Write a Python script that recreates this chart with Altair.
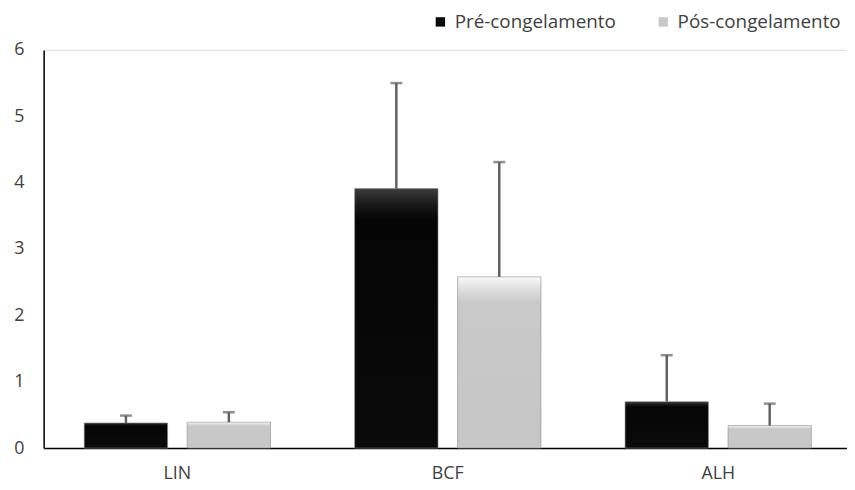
import altair as alt
import pandas as pd

categories = ["LIN", "BCF", "ALH"]
series = ["Pré-congelamento", "Pós-congelamento"]
pre_mean = [0.38, 3.91, 0.70]
pre_sd = [0.11, 1.59, 0.70]
pos_mean = [0.39, 2.58, 0.34]
pos_sd = [0.15, 1.73, 0.33]

rows = []
for i, c in enumerate(categories):
    rows.append({"cat": c, "serie": series[0], "valor": pre_mean[i], "sd": pre_sd[i], "ord": 0})
    rows.append({"cat": c, "serie": series[1], "valor": pos_mean[i], "sd": pos_sd[i], "ord": 1})
df = pd.DataFrame(rows)
df["topo"] = df["valor"] + df["sd"]

FONT = "Open Sans"
TXT = "#404040"

x_enc = alt.X("cat:N", sort=categories, title=None,
              scale=alt.Scale(paddingInner=0.311, paddingOuter=0.150, round=False),
              axis=alt.Axis(labelAngle=0, ticks=False, domainColor="#000000", domainWidth=1.5,
                            labelFont=FONT, labelFontSize=18, labelColor=TXT, labelPadding=17))
xoff = alt.XOffset("serie:N", sort=series,
                   scale=alt.Scale(paddingInner=0.19, paddingOuter=0, round=False))

y_enc = alt.Y("valor:Q", title=None,
              scale=alt.Scale(domain=[0, 6], nice=False),
              axis=alt.Axis(values=[0, 1, 2, 3, 4, 5, 6], format="d", ticks=False, grid=False,
                            domainColor="#000000", domainWidth=1.5,
                            labelFont=FONT, labelFontSize=18, labelColor=TXT, labelPadding=20))

grad_black = {"gradient": "linear", "x1": 0, "y1": 0, "x2": 0, "y2": 1,
              "stops": [{"offset": 0, "color": "#3c3c3c"}, {"offset": 0.06, "color": "#1a1a1a"},
                        {"offset": 0.12, "color": "#050505"}, {"offset": 1, "color": "#0a0a0a"}]}
grad_gray = {"gradient": "linear", "x1": 0, "y1": 0, "x2": 0, "y2": 1,
             "stops": [{"offset": 0, "color": "#fafafa"}, {"offset": 0.08, "color": "#dcdcdc"},
                       {"offset": 0.15, "color": "#c9c9c9"}, {"offset": 1, "color": "#c6c6c6"}]}

base = alt.Chart(df)

bars = base.mark_bar(stroke="#8a8a8a", strokeWidth=0.6).encode(
    x=x_enc,
    xOffset=xoff,
    y=y_enc,
    fill=alt.condition(alt.datum.ord == 0, alt.value(grad_black), alt.value(grad_gray)),
)

legend_layer = base.mark_square(opacity=0, size=1).encode(
    x=alt.X("cat:N", sort=categories),
    xOffset=xoff,
    y="valor:Q",
    color=alt.Color("serie:N", sort=series, title=None,
                    scale=alt.Scale(domain=series, range=["#0a0a0a", "#c8c8c8"]),
                    legend=alt.Legend(orient="none", legendX=391, legendY=-38, direction="horizontal",
                                      padding=0, symbolType="square", symbolSize=90,
                                      symbolStrokeWidth=0, symbolOpacity=1,
                                      labelFont=FONT, labelFontSize=19, labelColor=TXT,
                                      labelLimit=400, columnPadding=38, labelOffset=5)),
)

err = base.mark_rule(color="#606060", strokeWidth=2.5).encode(
    x=alt.X("cat:N", sort=categories),
    xOffset=xoff,
    y="valor:Q",
    y2="topo:Q",
)

caps = base.mark_tick(color="#606060", thickness=2.5, size=12, orient="horizontal").encode(
    x=alt.X("cat:N", sort=categories),
    xOffset=xoff,
    y="topo:Q",
)

chart = alt.layer(bars, err, caps, legend_layer).properties(
    width=816, height=402,
    autosize=alt.AutoSizeParams(type="none"),
    padding={"left": 36, "top": 40, "right": -5, "bottom": 40},
).configure_view(stroke=None).configure(font=FONT)

chart.save("out.html", embed_options={"renderer": "svg", "actions": False})
